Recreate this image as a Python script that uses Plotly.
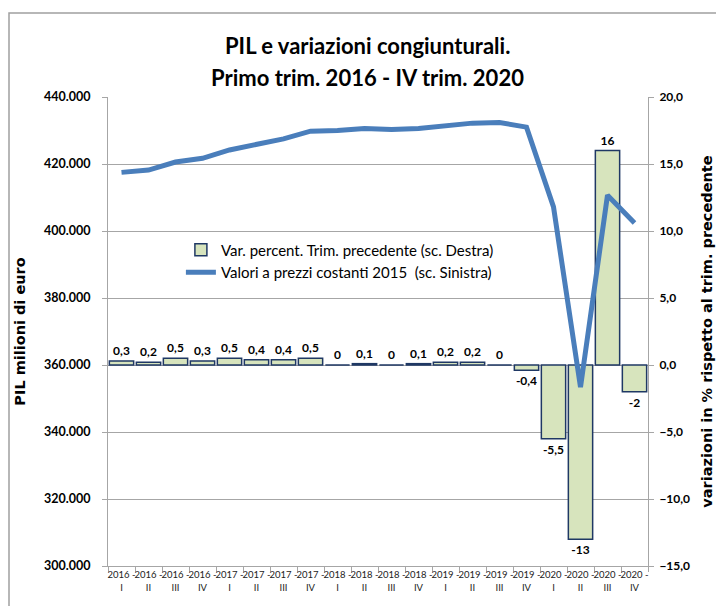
import plotly.graph_objects as go

years = ["2016", "2016", "2016", "2016", "2017", "2017", "2017", "2017",
         "2018", "2018", "2018", "2018", "2019", "2019", "2019", "2019",
         "2020", "2020", "2020", "2020"]
quarters = ["I", "II", "III", "IV"] * 5
categories = [f"{y} -<br>{q}" for y, q in zip(years, quarters)]

pil_values = [417500, 418200, 420600, 421700, 424200, 426000, 427500, 429800,
              430000, 430600, 430300, 430600, 431500, 432200, 432400, 431000,
              407200, 353400, 410700, 402400]
var_pct = [0.3, 0.2, 0.5, 0.3, 0.5, 0.4, 0.4, 0.5,
           0.0, 0.1, 0.0, 0.1, 0.2, 0.2, 0.0, -0.4,
           -5.5, -13, 16, -2]
var_labels = ["0,3", "0,2", "0,5", "0,3", "0,5", "0,4", "0,4", "0,5",
              "0", "0,1", "0", "0,1", "0,2", "0,2", "0", "-0,4",
              "-5,5", "-13", "16", "-2"]

title_lines = ["PIL e variazioni congiunturali.", "Primo trim. 2016 - IV trim. 2020"]

MAIN = "Lato, Liberation Sans, sans-serif"
AXT = "DejaVu Sans, Verdana, sans-serif"
GRID = "#A6A6A6"

fig = go.Figure()
fig.add_trace(go.Bar(
    x=categories, y=var_pct, yaxis="y",
    name="Var. percent. Trim. precedente (sc. Destra)",
    marker=dict(color="#D7E4BD", line=dict(color="#1F3864", width=1.5)),
    text=var_labels, textposition="outside", cliponaxis=False,
    outsidetextfont=dict(family=MAIN, size=12, color="#000000", weight="bold"),
    textfont=dict(family=MAIN, size=12, color="#000000", weight="bold"),
))
fig.add_trace(go.Scatter(
    x=categories, y=pil_values, yaxis="y2", mode="lines",
    name="Valori a prezzi costanti 2015  (sc. Sinistra)",
    line=dict(color="#4A7EBB", width=5),
))

PW, PH, L, T = 540, 469, 108, 97
annotations = [
    dict(text=f"<b>{title_lines[0]}</b>", xref="paper", yref="paper",
         x=(367 - L) / PW, y=1 + (T - 45) / PH, xanchor="center", yanchor="middle",
         showarrow=False, font=dict(family=MAIN, size=22, color="#000000")),
    dict(text=f"<b>{title_lines[1]}</b>", xref="paper", yref="paper",
         x=(367 - L) / PW, y=1 + (T - 78) / PH, xanchor="center", yanchor="middle",
         showarrow=False, font=dict(family=MAIN, size=22, color="#000000")),
]

fig.update_layout(
    width=716, height=606,
    margin=dict(l=L, r=716 - L - PW, t=T, b=606 - T - PH),
    paper_bgcolor="white", plot_bgcolor="white",
    separators=",.",
    bargap=0.1,
    showlegend=True,
    annotations=annotations,
    legend=dict(
        x=0.135, y=0.709, xanchor="left", yanchor="top",
        bgcolor="rgba(255,255,255,0)", borderwidth=0,
        font=dict(family=MAIN, size=15, color="#000000"),
        traceorder="normal", tracegroupgap=0, itemwidth=30,
    ),
    xaxis=dict(
        type="category", showgrid=False, showline=True, linecolor=GRID, linewidth=1,
        ticks="outside", ticklen=5, tickcolor=GRID, tickson="boundaries",
        tickfont=dict(family=MAIN, size=9.5, color="#222222"),
        tickangle=0, automargin=False,
    ),
    yaxis=dict(
        side="right", range=[-15, 20], dtick=5, tickformat=".1f",
        showgrid=False, zeroline=False, showline=True, linecolor=GRID, linewidth=1,
        ticks="outside", ticklen=5, tickcolor=GRID, ticklabelstandoff=3,
        tickfont=dict(family=MAIN, size=12, color="#000000", weight="bold"),
        title=dict(text="<b>variazioni in % rispetto al trim. precedente</b>",
                   font=dict(family=AXT, size=14.5, color="#000000"),
                   standoff=12),
        automargin=False,
    ),
    yaxis2=dict(
        overlaying="y", side="left", range=[300000, 440000], dtick=20000,
        tickformat=",.0f",
        showgrid=True, gridcolor=GRID, gridwidth=1, zeroline=False,
        showline=True, linecolor=GRID, linewidth=1,
        ticks="outside", ticklen=5, tickcolor=GRID, ticklabelstandoff=9,
        tickfont=dict(family=MAIN, size=12.5, color="#000000", weight="bold"),
        title=dict(text="<b>PIL milioni di euro</b>",
                   font=dict(family=AXT, size=14.5, color="#000000"),
                   standoff=14),
        automargin=False,
    ),
    shapes=[dict(type="rect", xref="paper", yref="paper",
                 x0=(9 - L) / PW, x1=1.2, y0=-0.2, y1=1 + (T - 13) / PH,
                 line=dict(color="#A0A0A0", width=1.5), fillcolor="rgba(0,0,0,0)",
                 layer="below")],
)

fig.write_html("out.html", config={"displayModeBar": False},
               post_script="document.body.style.margin='0';document.body.style.overflow='hidden';")
